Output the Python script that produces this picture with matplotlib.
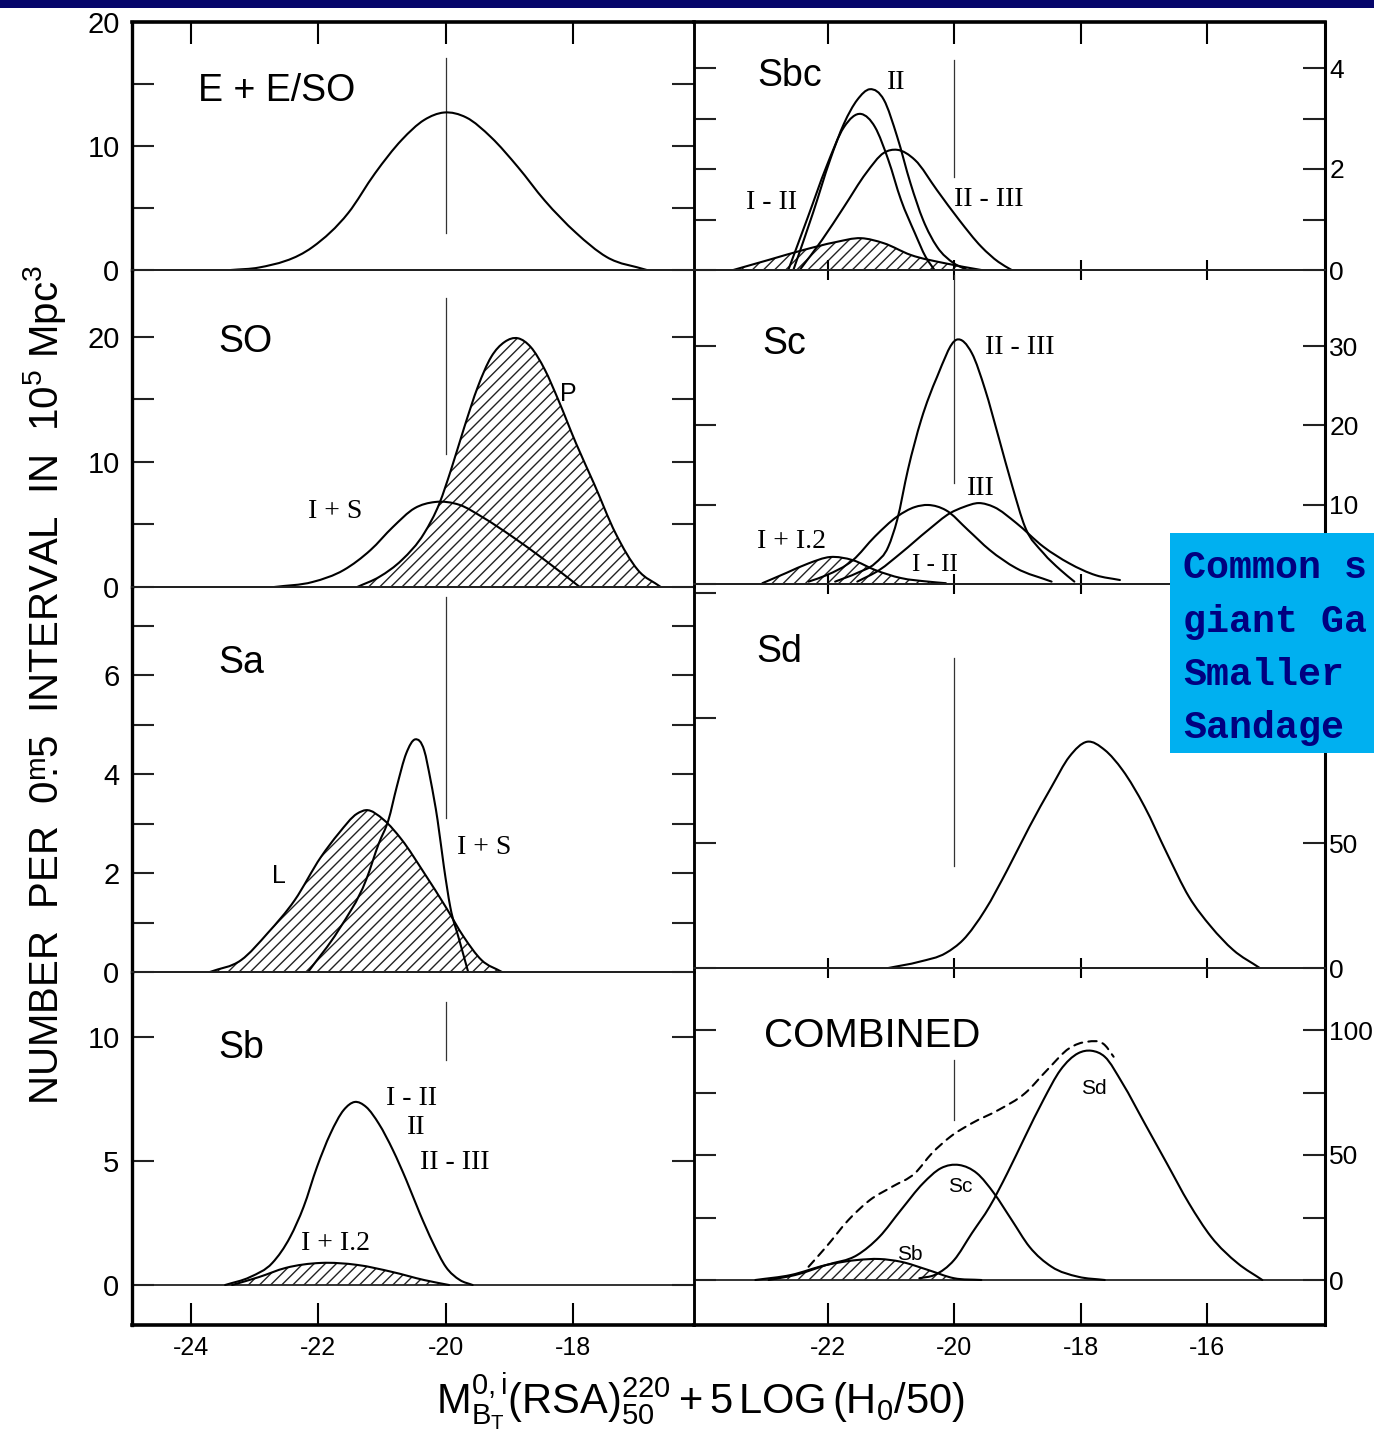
import matplotlib
matplotlib.use('Agg')
import numpy as np
import matplotlib.pyplot as plt
from matplotlib import font_manager
from matplotlib.patches import Rectangle, PathPatch
from matplotlib.path import Path

installed = {f.name for f in font_manager.fontManager.ttflist}
def pick(*names):
    for n in names:
        if n in installed:
            return n
    return 'DejaVu Sans'
SANS = pick('Liberation Sans', 'DejaVu Sans')
NARROW = pick('Liberation Sans Narrow', 'Liberation Sans')
SERIF = pick('Liberation Serif', 'DejaVu Serif')
MONO = pick('Liberation Mono', 'DejaVu Sans Mono')

plt.rcParams.update({
    'font.family': [SANS, 'DejaVu Sans'],
    'mathtext.fontset': 'custom',
    'mathtext.rm': SANS,
    'mathtext.it': SANS + ':italic',
    'mathtext.bf': SANS + ':bold',
    'hatch.linewidth': 1.0,
})

# ---------------- data ----------------
MARK_X = -20.0
LEFT_XTICKS = [-24, -22, -20, -18]
RIGHT_XTICKS = [-22, -20, -18, -16]

# E + E/SO
E_x = [-23.37, -22.93, -22.09, -21.53, -21.11, -20.69, -20.34, -20.03, -19.68, -19.29, -18.87, -18.45, -17.96, -17.48, -16.85]
E_y = [0, 0.2, 1.85, 4.6, 7.8, 10.5, 12.1, 12.7, 12.3, 10.7, 8.3, 5.6, 3.0, 1.05, 0]

# SO
SO_IS_x = [-22.69, -22.09, -21.6, -21.18, -20.83, -20.49, -20.17, -19.78, -19.43, -18.95, -18.45, -17.9]
SO_IS_y = [0, 0.4, 1.36, 2.96, 4.8, 6.3, 6.8, 6.56, 5.6, 4.0, 2.16, 0]
SO_P_x = [-21.39, -21.04, -20.69, -20.34, -20.1, -19.92, -19.71, -19.5, -19.29, -19.08, -18.87, -18.67, -18.45, -18.24, -17.96, -17.68, -17.34, -16.99, -16.63]
SO_P_y = [0, 0.82, 2.16, 4.3, 6.7, 9.36, 12.8, 16.0, 18.4, 19.6, 19.9, 19.2, 17.4, 15.0, 11.5, 8.3, 4.3, 1.36, 0]

# Sa
SA_L_x = [-23.7, -23.21, -22.79, -22.37, -21.96, -21.68, -21.39, -21.25, -20.97, -20.69, -20.34, -20.0, -19.72, -19.44, -19.12]
SA_L_y = [0, 0.24, 0.79, 1.45, 2.32, 2.8, 3.2, 3.27, 3.07, 2.67, 2.0, 1.31, 0.71, 0.24, 0]
SA_IS_x = [-22.16, -21.68, -21.25, -21.05, -20.9, -20.77, -20.62, -20.48, -20.34, -20.24, -20.13, -20.03, -19.93, -19.79, -19.65]
SA_IS_y = [0, 0.85, 1.86, 2.6, 3.07, 3.74, 4.42, 4.7, 4.48, 3.88, 3.07, 2.12, 1.31, 0.65, 0]

# Sb
SB_x = [-23.46, -23.07, -22.72, -22.44, -22.23, -22.02, -21.81, -21.6, -21.43, -21.25, -21.05, -20.83, -20.62, -20.41, -20.2, -20.0, -19.78, -19.58]
SB_y = [0, 0.32, 0.89, 1.94, 3.15, 4.76, 6.1, 7.06, 7.38, 7.18, 6.5, 5.44, 4.23, 2.9, 1.69, 0.73, 0.2, 0]
SB_I_x = [-23.35, -22.93, -22.51, -21.96, -21.39, -20.83, -20.34, -19.95]
SB_I_y = [0, 0.32, 0.69, 0.89, 0.81, 0.52, 0.2, 0]

# Sbc
SBC_II_x = [-22.54, -22.23, -21.96, -21.74, -21.53, -21.33, -21.11, -20.9, -20.69, -20.49, -20.27, -20.0, -19.79]
SBC_II_y = [0, 1.13, 2.18, 2.9, 3.37, 3.58, 3.37, 2.64, 1.72, 0.99, 0.46, 0.13, 0]
SBC_I_II_x = [-22.62, -22.31, -22.02, -21.74, -21.47, -21.25, -21.04, -20.84, -20.62, -20.45, -20.31]
SBC_I_II_y = [0, 1.05, 2.04, 2.83, 3.09, 2.83, 2.18, 1.39, 0.73, 0.26, 0]
SBC_II_III_x = [-22.44, -22.09, -21.74, -21.39, -21.11, -20.9, -20.62, -20.27, -19.92, -19.57, -19.3, -19.09]
SBC_II_III_y = [0, 0.59, 1.25, 1.92, 2.32, 2.38, 2.18, 1.58, 0.99, 0.46, 0.16, 0]
SBC_H_x = [-23.49, -22.93, -22.37, -21.88, -21.47, -21.11, -20.69, -20.13, -19.57]
SBC_H_y = [0, 0.2, 0.4, 0.55, 0.63, 0.53, 0.3, 0.13, 0]

# Sc
SC_II_III_x = [-21.88, -21.53, -21.25, -21.04, -20.9, -20.73, -20.52, -20.27, -19.96, -19.72, -19.51, -19.3, -19.08, -18.88, -18.59, -18.32, -18.1]
SC_II_III_y = [0.3, 1.4, 2.6, 4.7, 8.07, 14.4, 20.7, 26.1, 30.8, 29.1, 24.5, 18.6, 12.3, 7.2, 3.9, 1.77, 0.3]
SC_I_II_x = [-22.3, -22.02, -21.6, -21.25, -20.9, -20.62, -20.41, -20.13, -19.78, -19.44, -19.02, -18.46]
SC_I_II_y = [0.3, 1.1, 3.0, 6.0, 8.5, 9.7, 9.96, 9.3, 6.8, 4.3, 2.0, 0.3]
SC_III_x = [-21.53, -21.18, -20.84, -20.41, -20.06, -19.85, -19.61, -19.37, -19.02, -18.59, -18.18, -17.76, -17.38]
SC_III_y = [0.3, 1.77, 3.9, 6.8, 8.95, 9.7, 10.2, 9.7, 7.7, 4.7, 2.6, 1.1, 0.5]
SC_H_x = [-23.03, -22.65, -22.3, -21.96, -21.6, -21.25, -20.84, -20.41, -20.13]
SC_H_y = [0.1, 1.4, 2.6, 3.4, 3.0, 1.77, 0.75, 0.3, 0.1]

# Sd
SD_x = [-21.04, -20.55, -20.13, -19.86, -19.51, -19.16, -18.81, -18.46, -18.18, -17.9, -17.62, -17.34, -16.99, -16.64, -16.29, -15.94, -15.59, -15.17]
SD_y = [0, 2.5, 6, 11.2, 23.2, 39.2, 56.5, 72.5, 84.5, 90.5, 87.2, 79.2, 64.5, 46, 28.5, 16.5, 7.2, 0]

# Combined
CB_SD_x = [-20.55, -20.31, -20.0, -19.72, -19.44, -19.16, -18.88, -18.59, -18.32, -18.04, -17.83, -17.62, -17.34, -16.99, -16.64, -16.29, -15.94, -15.52, -15.13]
CB_SD_y = [0.7, 2, 8, 18.7, 29.3, 42.7, 57.3, 72, 84, 90.7, 91.7, 89.3, 78.7, 62.7, 46.7, 30.7, 17.3, 6.7, 0]
CB_SC_x = [-22.93, -22.51, -22.02, -21.53, -21.18, -20.84, -20.49, -20.21, -19.92, -19.64, -19.37, -19.09, -18.81, -18.46, -18.04, -17.62]
CB_SC_y = [0, 2, 6, 10, 17.3, 28, 38.7, 44.7, 46, 42.7, 34.7, 24, 13.3, 5.3, 1.3, 0]
CB_SB_x = [-23.14, -22.58, -22.02, -21.53, -21.18, -20.84, -20.41, -20.0, -19.57]
CB_SB_y = [0, 2, 6, 8, 8.4, 7.3, 4, 0.7, 0]
CB_TOT_x = [-22.3, -22.02, -21.67, -21.33, -20.98, -20.62, -20.35, -20.06, -19.72, -19.3, -18.88, -18.53, -18.18, -17.9, -17.62, -17.48]
CB_TOT_y = [5.3, 13.3, 24, 32, 37.3, 42.7, 50.7, 57.3, 62.7, 68, 74.7, 84, 92.7, 95.3, 94, 89.3]

# -20 marker spans (ymin, ymax) per panel
MARKS = {'E': (3.0, 17.1), 'SO': (10.6, 23.1), 'Sa': (3.11, 7.58), 'Sb': (9.07, 11.4),
         'Sbc': (1.84, 4.16), 'Sc': (12.7, 39.0), 'Sd': (41, 124), 'CB': (64, 88)}

YLABEL = r"NUMBER  PER  $0\overset{\mathrm{m}}{.}5$  INTERVAL  IN  $10^5$ Mpc$^3$"
XLABEL = r"$\mathrm{M}^{\mathrm{0,i}}_{\mathrm{B_T}}\mathrm{(RSA)}^{\mathrm{220}}_{\mathrm{50}}+5\,\mathrm{LOG\,(H_0/50)}$"
BOX_LINES = ["Common s", "giant Ga", "Smaller", "Sandage"]

# ---------------- layout ----------------
W, H = 1374, 1429
fig = plt.figure(figsize=(W / 100, H / 100), dpi=100)
fig.patch.set_facecolor('white')

LX0, LX1, RX0, RX1 = 132, 694, 694, 1325
LROWS = [22, 270, 587, 972, 1325]
RROWS = [22, 270, 584, 968, 1325]
LXLIM = (-24.92, -16.11)
RXLIM = (-24.11, -14.14)

def make_ax(x0, x1, ytop, ybot, cal, xlim):
    ax = fig.add_axes([x0 / W, 1 - ybot / H, (x1 - x0) / W, (ybot - ytop) / H])
    ax.set_facecolor('none')
    (p0, v0), (p1, v1) = cal
    f = lambda p: v0 + (p - p0) * (v1 - v0) / (p1 - p0)
    ax.set_ylim(f(ybot), f(ytop))
    ax.set_xlim(*xlim)
    for s in ax.spines.values():
        s.set_linewidth(1.4)
        s.set_color('#222222')
    return ax

axE = make_ax(LX0, LX1, LROWS[0], LROWS[1], ((270, 0), (22, 20)), LXLIM)
axSO = make_ax(LX0, LX1, LROWS[1], LROWS[2], ((587, 0), (337, 20)), LXLIM)
axSa = make_ax(LX0, LX1, LROWS[2], LROWS[3], ((972, 0), (675, 6)), LXLIM)
axSb = make_ax(LX0, LX1, LROWS[3], LROWS[4], ((1285, 0), (1037, 10)), LXLIM)
axSbc = make_ax(RX0, RX1, RROWS[0], RROWS[1], ((270, 0), (68, 4)), RXLIM)
axSc = make_ax(RX0, RX1, RROWS[1], RROWS[2], ((584, 0), (346, 30)), RXLIM)
axSd = make_ax(RX0, RX1, RROWS[2], RROWS[3], ((968, 0), (843, 50)), RXLIM)
axCB = make_ax(RX0, RX1, RROWS[3], RROWS[4], ((1280, 0), (1030, 100)), RXLIM)

left_axes = [axE, axSO, axSa, axSb]
right_axes = [axSbc, axSc, axSd, axCB]

for ax in left_axes:
    ax.spines['left'].set_linewidth(2.4)
    ax.spines['left'].set_color('black')
    ax.spines['right'].set_linewidth(1.8)
    ax.spines['right'].set_color('black')
for ax in right_axes:
    ax.spines['right'].set_linewidth(2.2)
    ax.spines['right'].set_color('black')
    ax.spines['left'].set_linewidth(1.8)
    ax.spines['left'].set_color('black')
for ax in (axE, axSbc):
    ax.spines['top'].set_linewidth(2.6)
    ax.spines['top'].set_color('black')
for ax in (axSb, axCB):
    ax.spines['bottom'].set_linewidth(2.6)
    ax.spines['bottom'].set_color('black')
    ax.axhline(0, color='#333333', lw=1.4, zorder=1)

# y ticks: (axes, labelled ticks, unlabelled ticks)
YT = [(axE, [0, 10, 20], [5, 15]), (axSO, [0, 10, 20], [5, 15]), (axSa, [0, 2, 4, 6], [1, 3, 5, 7]),
      (axSb, [0, 5, 10], []), (axSbc, [0, 2, 4], [1, 3]), (axSc, [10, 20, 30], [0]),
      (axSd, [0, 50], [100, 150]), (axCB, [0, 50, 100], [25, 75])]
for ax, major, minor in YT:
    fs = 21 if ax in left_axes else 19
    ax.set_yticks(major, labels=[str(v) for v in major], fontsize=fs, fontfamily=NARROW)
    ax.set_yticks(minor, minor=True)
    ax.tick_params(axis='y', which='both', direction='in', left=True, right=True,
                   length=16, width=1.5, color='#222222')
for ax in left_axes:
    ax.tick_params(axis='y', labelleft=True, labelright=False, pad=9)
for ax in right_axes:
    ax.tick_params(axis='y', labelleft=False, labelright=True, pad=3)

# x ticks
for ax in left_axes:
    ax.set_xticks(LEFT_XTICKS)
    ax.tick_params(axis='x', top=False, bottom=False, labelbottom=False, labeltop=False)
for ax in right_axes:
    ax.set_xticks(RIGHT_XTICKS)
    ax.tick_params(axis='x', top=False, bottom=False, labelbottom=False, labeltop=False)
axE.tick_params(axis='x', top=True, direction='in', length=16, width=1.5)
axSbc.tick_params(axis='x', top=True, direction='in', length=16, width=1.5)
axSc.tick_params(axis='x', top=True, direction='inout', length=14, width=1.5)
axSd.tick_params(axis='x', top=True, bottom=True, direction='inout', length=14, width=1.5)
for ax, ticks in ((axSb, LEFT_XTICKS), (axCB, RIGHT_XTICKS)):
    ax.set_xticks(ticks, labels=[str(t) for t in ticks], fontsize=18, fontfamily=NARROW)
    ax.tick_params(axis='x', bottom=True, labelbottom=True, direction='in', length=16, width=1.5, pad=8)

# ---------------- curves (smooth cubic path through the read points) ----------------
LW = 1.5
HATCH = '///'

def smooth_path_parts(x, y):
    x = np.asarray(x, float)
    y = np.asarray(y, float)
    n = len(x)
    h = np.diff(x)
    s = np.diff(y) / h
    m = np.empty(n)
    m[0], m[-1] = s[0], s[-1]
    for i in range(1, n - 1):
        m[i] = (s[i] * h[i - 1] + s[i - 1] * h[i]) / (h[i - 1] + h[i])
    verts = [(x[0], y[0])]
    codes = [Path.MOVETO]
    for i in range(n - 1):
        verts += [(x[i] + h[i] / 3, y[i] + m[i] * h[i] / 3),
                  (x[i + 1] - h[i] / 3, y[i + 1] - m[i + 1] * h[i] / 3),
                  (x[i + 1], y[i + 1])]
        codes += [Path.CURVE4] * 3
    return verts, codes

def curve(ax, x, y, ls='solid'):
    v, c = smooth_path_parts(x, y)
    ax.add_patch(PathPatch(Path(v, c), fill=False, edgecolor='black', lw=LW, ls=ls,
                           capstyle='round', joinstyle='round', zorder=3))

def hatched(ax, x, y):
    v, c = smooth_path_parts(x, y)
    v = v + [(x[-1], 0), (x[0], 0), (x[0], 0)]
    c = c + [Path.LINETO, Path.LINETO, Path.CLOSEPOLY]
    ax.add_patch(PathPatch(Path(v, c), facecolor='none', edgecolor='#222222', hatch=HATCH,
                           lw=0, zorder=2))
    curve(ax, x, y)

def mark(ax, key):
    lo, hi = MARKS[key]
    ax.plot([MARK_X, MARK_X], [lo, hi], color='#333333', lw=0.9, zorder=2)

curve(axE, E_x, E_y); mark(axE, 'E')
hatched(axSO, SO_P_x, SO_P_y); curve(axSO, SO_IS_x, SO_IS_y); mark(axSO, 'SO')
hatched(axSa, SA_L_x, SA_L_y); curve(axSa, SA_IS_x, SA_IS_y); mark(axSa, 'Sa')
hatched(axSb, SB_I_x, SB_I_y); curve(axSb, SB_x, SB_y); mark(axSb, 'Sb')
hatched(axSbc, SBC_H_x, SBC_H_y)
curve(axSbc, SBC_II_x, SBC_II_y); curve(axSbc, SBC_I_II_x, SBC_I_II_y); curve(axSbc, SBC_II_III_x, SBC_II_III_y)
mark(axSbc, 'Sbc')
hatched(axSc, SC_H_x, SC_H_y)
curve(axSc, SC_II_III_x, SC_II_III_y); curve(axSc, SC_I_II_x, SC_I_II_y); curve(axSc, SC_III_x, SC_III_y)
mark(axSc, 'Sc')
curve(axSd, SD_x, SD_y); mark(axSd, 'Sd')
hatched(axCB, CB_SB_x, CB_SB_y)
curve(axCB, CB_SC_x, CB_SC_y); curve(axCB, CB_SD_x, CB_SD_y)
curve(axCB, CB_TOT_x, CB_TOT_y, ls=(0, (4, 3)))
mark(axCB, 'CB')

# ---------------- labels ----------------
def lab(ax, x, y, s, size=27, fam=None, **kw):
    ax.text(x, y, s, fontsize=size, fontfamily=fam or SANS, ha='left', va='center', zorder=5, **kw)

lab(axE, -23.89, 14.4, 'E + E/SO')
lab(axSO, -23.57, 19.6, 'SO')
lab(axSO, -22.16, 6.0, 'I + S', 20, SERIF)
lab(axSO, -18.21, 15.4, 'P', 18)
lab(axSa, -23.57, 6.24, 'Sa')
lab(axSa, -22.73, 1.94, 'L', 18)
lab(axSa, -19.82, 2.52, 'I + S', 20, SERIF)
lab(axSb, -23.57, 9.56, 'Sb')
lab(axSb, -20.94, 7.54, 'I - II', 20, SERIF)
lab(axSb, -20.61, 6.35, 'II', 20, SERIF)
lab(axSb, -20.41, 4.92, 'II - III', 20, SERIF)
lab(axSb, -22.27, 1.69, 'I + I.2', 20, SERIF)
lab(axSbc, -23.11, 3.84, 'Sbc')
lab(axSbc, -21.06, 3.71, 'II', 20, SERIF)
lab(axSbc, -23.29, 1.33, 'I - II', 20, SERIF)
lab(axSbc, -20.0, 1.39, 'II - III', 20, SERIF)
lab(axSc, -23.03, 30.3, 'Sc')
lab(axSc, -19.51, 29.8, 'II - III', 20, SERIF)
lab(axSc, -19.79, 12.0, 'III', 20, SERIF)
lab(axSc, -23.11, 5.3, 'I + I.2', 20, SERIF)
lab(axSc, -20.66, 2.4, 'I - II', 18, SERIF)
lab(axSd, -23.13, 126.4, 'Sd')
lab(axCB, -23.0, 97.6, 'COMBINED', 29)
lab(axCB, -18.0, 76.8, 'Sd', 15)
lab(axCB, -20.09, 37.6, 'Sc', 15)
lab(axCB, -20.9, 10.4, 'Sb', 15)

fig.text(45 / W, 1 - 685 / H, YLABEL, rotation=90, fontsize=29, ha='center', va='center')
fig.text(700 / W, 1 - 1413 / H, XLABEL, fontsize=30, ha='center', va='baseline')

# top band
fig.patches.append(Rectangle((0, 1 - 8 / H), 1, 8 / H, transform=fig.transFigure,
                             facecolor='#06066b', edgecolor='none', zorder=20))
# blue note box (cut at the right edge)
fig.patches.append(Rectangle((1170 / W, 1 - 753 / H), (W - 1170) / W, (753 - 533) / H,
                             transform=fig.transFigure, facecolor='#00b0f0', edgecolor='none', zorder=20))
for i, s in enumerate(BOX_LINES):
    fig.text(1183 / W, 1 - (568 + 53.5 * i) / H, s, fontsize=27.5, fontfamily=MONO, fontweight='bold',
             color='#000080', ha='left', va='center', zorder=21)

fig.savefig('out.png', dpi=100)
